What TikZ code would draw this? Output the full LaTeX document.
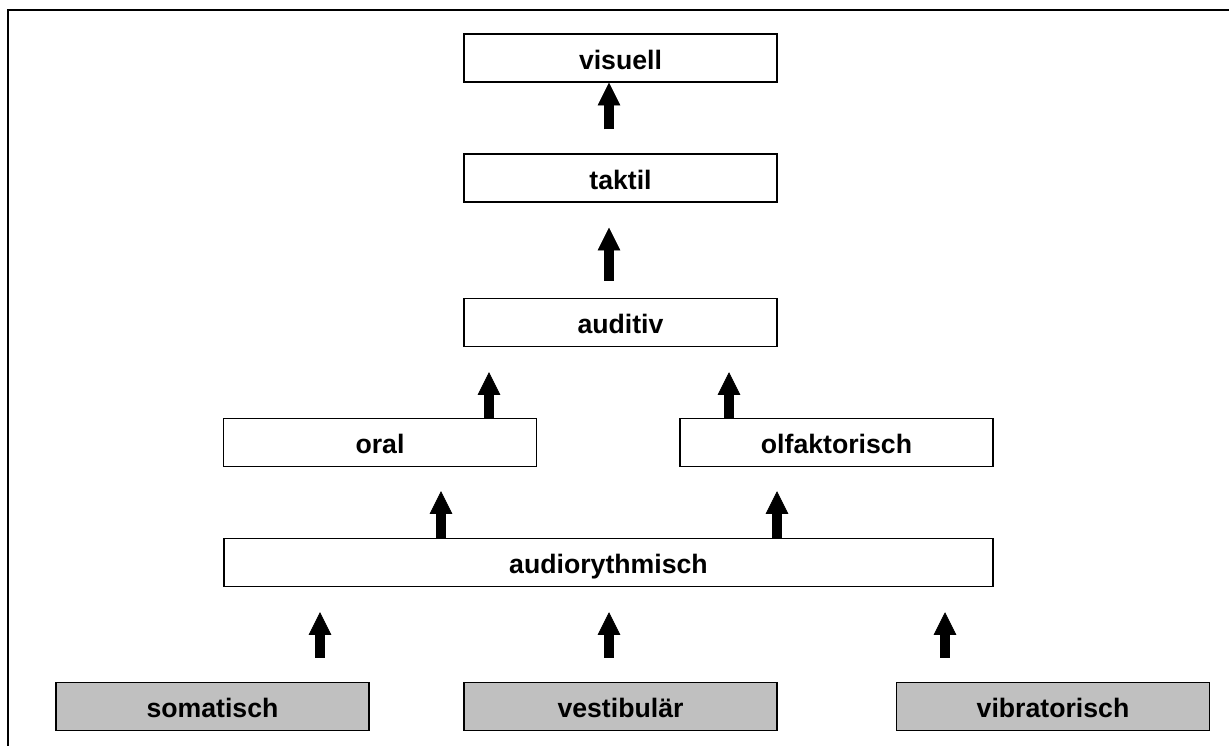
\documentclass[tikz,border=0pt]{standalone}
\usepackage{fontspec}
\setmainfont{Liberation Sans}
\usetikzlibrary{arrows.meta}
\definecolor{basegray}{RGB}{192,192,192}
\tikzset{
  sense/.style={draw, line width=1.1pt, minimum width=234.75pt, minimum height=36pt, inner sep=0pt,
    text height=17pt, text depth=0pt, font=\bfseries\fontsize{20}{24}\selectfont},
  basesense/.style={sense, fill=basegray},
  uparrow/.style={line width=7pt, -{Triangle[width=17pt,length=17pt,line width=0.5pt]}}
}

\begin{document}
\begin{tikzpicture}[x=0.75pt,y=-0.75pt]
\useasboundingbox (0,0) rectangle (1229,746);
\draw[line width=1.5pt] (8,746) -- (8,10) -- (1229,10);

\node[sense] (visuell) at (620.5,58) {visuell};
\node[sense] (taktil) at (620.5,178) {taktil};
\node[sense] (auditiv) at (620.5,322.5) {auditiv};
\node[sense] (oral) at (380,442.5) {oral};
\node[sense] (olfaktorisch) at (836.5,442.5) {olfaktorisch};
\node[sense, minimum width=576.75pt] (audiorythmisch) at (608.5,562.5) {audiorythmisch};
\node[basesense] (somatisch) at (212.5,706.5) {somatisch};
\node[basesense] (vestibulaer) at (620.5,706.5) {vestibulär};
\node[basesense] (vibratorisch) at (1053,706.5) {vibratorisch};

\foreach \x/\from/\to/\s/\e in {609/taktil/visuell/18/0, 609/auditiv/taktil/12.75/18.75,
    489/oral/auditiv/0/18.75, 729/olfaktorisch/auditiv/0/18.75,
    441/audiorythmisch/oral/0/18, 777/audiorythmisch/olfaktorisch/0/18,
    320/somatisch/audiorythmisch/18/18.75, 609/vestibulaer/audiorythmisch/18/18.75,
    945/vibratorisch/audiorythmisch/18/18.75}
  \draw[uparrow, shorten <=\s pt, shorten >=\e pt] (\from.north -| \x,0) -- (\to.south -| \x,0);
\end{tikzpicture}
\end{document}
